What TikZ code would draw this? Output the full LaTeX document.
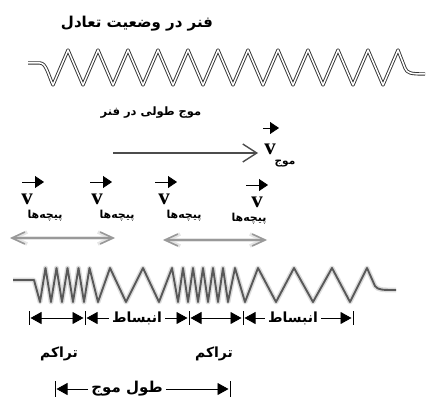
\documentclass[tikz,border=0pt]{standalone}
\usepackage{fontspec}
\usepackage{tikz}
\usetikzlibrary{arrows.meta}

\newfontfamily\farsi[Script=Arabic]{DejaVu Sans}
\newfontfamily\vecfont{Liberation Serif}
\TeXXeTstate=1
\newcommand{\fa}[1]{\beginR #1\endR}

\tikzset{
  fatext/.style={inner sep=1pt, font=\farsi\bfseries\fontsize{#1}{#1}\selectfont},
  fatext/.default=14,
  dimtext/.style={fatext=#1, inner xsep=3pt},
  dimtext/.default=14,
  vlabel/.style={inner sep=0pt, font=\vecfont\bfseries\fontsize{23}{23}\selectfont},
  coil/.style={draw=black!80, line width=0.9pt, double=white, double distance=1.5pt, line join=round},
  blurcoil/.style={draw=black!65, line width=1.9pt, line join=round,
    preaction={draw=black!30, line width=4.8pt, opacity=0.45, line join=round}},
  vecarrow/.style={line width=0.8pt, -{Triangle[length=9pt, width=12pt]}},
  wavearrow/.style={draw=black!70, line width=1.4pt, -{Straight Barb[length=14pt, width=18pt]}},
  grayarrow/.style={draw=black!40, line width=1.6pt,
    {Straight Barb[length=13pt, width=12pt]}-{Straight Barb[length=13pt, width=12pt]},
    preaction={draw=black!20, line width=3.5pt, opacity=0.5}},
  bar/.style={line width=1pt},
  dimboth/.style={line width=0.9pt, shorten <=1.5pt, shorten >=1.5pt,
    {Triangle[length=11pt, width=12pt]}-{Triangle[length=11pt, width=12pt]}},
  dimone/.style={line width=0.9pt, shorten >=1.5pt, -{Triangle[length=11pt, width=12pt]}}
}

\begin{document}
\begin{tikzpicture}[x=1pt, y=-1pt]
  \useasboundingbox (0,0) rectangle (428,409);

  % Spring at rest
  \node[fatext=15] (rest) at (137,24) {\fa{فنر در وضعیت تعادل}};
  \draw[coil] (28,63) -- (40,63) .. controls (46,63) and (48,74) .. (53,85)
    \foreach \k in {0,...,10} { -- ({68+30*\k},50) -- ({83+30*\k},85) }
    -- (398,50) -- (405,68) .. controls (407,73) and (410,74) .. (425,74);

  % Wave velocity
  \node[fatext=11.5] (wave) at (151,113) {\fa{موج طولی در فنر}};
  \coordinate (wtail) at (113,153);
  \node[vlabel] (vw) at (270,149) {v};
  \node[fatext=10.5] (vwsub) at (285,164) {\fa{موج}};
  \draw[wavearrow] (wtail) -- ([xshift=-6pt]wtail -| vw.west);
  \draw[vecarrow] ([shift={(-7,-21)}]vw.center) -- ++(16,0);

  % Coil velocities
  \foreach \n/\vx/\vy/\ax/\tx/\ty in {1/27/199/-5/45/216, 2/97/199/-7/117/216,
                                      3/164/199/-9/184/216, 4/257/202/-11/249/219} {
    \node[vlabel] (v\n) at (\vx,\vy) {v};
    \node[fatext=11] (coil\n) at (\tx,\ty) {\fa{پیچه‌ها}};
    \draw[vecarrow] ([shift={(\ax,-17)}]v\n.center) -- ++(22,0);
  }

  % Coil oscillation
  \coordinate (ga) at (10,238);
  \coordinate (gb) at (115,238);
  \coordinate (gc) at (163,240);
  \coordinate (gd) at (267,240);
  \draw[grayarrow] (ga) -- (gb);
  \draw[grayarrow] (gc) -- (gd);

  % Spring carrying the wave
  \draw[blurcoil] (13,280) -- (34,280)
    \foreach \x [count=\i] in {40,45.5,51,56.5,62,67.5,73,78.5,84,89.5,
                               98,110,126,143,159,172,
                               178,183,188,193,198,203,208,213,218,223,228,
                               235,245,258,276,294,313,332,350,367}
      { -- (\x,{285-17*cos(180*\i)}) }
    -- (375,286) .. controls (378,290) and (382,290) .. (396,290);

  % Compressions and rarefactions
  \foreach \n/\x in {1/29, 2/85, 3/189, 4/243, 5/353} {
    \coordinate (b\n) at (\x,318);
    \draw[bar] (\x,311) -- (\x,325);
  }
  \draw[dimboth] (b1) -- (b2);
  \node[dimtext] (rare1) at (137,318) {\fa{انبساط}};
  \draw[dimone] (rare1) -- (b2);
  \draw[dimone] (rare1) -- (b3);
  \draw[dimboth] (b3) -- (b4);
  \node[dimtext] (rare2) at (293,318) {\fa{انبساط}};
  \draw[dimone] (rare2) -- (b4);
  \draw[dimone] (rare2) -- (b5);

  \node[fatext=14] (comp1) at (59,354) {\fa{تراکم}};
  \node[fatext=14] (comp2) at (214,354) {\fa{تراکم}};

  % Wavelength
  \coordinate (la) at (55,389);
  \coordinate (lb) at (230,389);
  \draw[bar] (55,381) -- (55,397);
  \draw[bar] (230,381) -- (230,397);
  \node[dimtext=15] (lambda) at (127,389) {\fa{طول موج}};
  \draw[dimone] (lambda) -- (la);
  \draw[dimone] (lambda) -- (lb);

\end{tikzpicture}
\end{document}
